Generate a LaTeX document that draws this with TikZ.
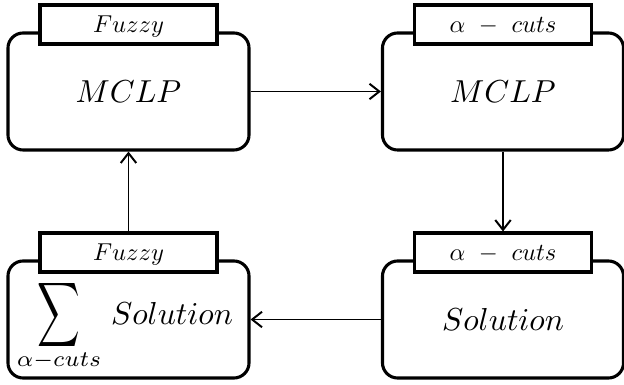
\documentclass[tikz,border=0pt]{standalone}
\usepackage{graphicx}
\usetikzlibrary{arrows.meta}
\newcommand{\boxtxt}[1]{\scalebox{2.26}{$#1$}}
\newcommand{\tagtxt}[1]{\scalebox{1.74}{$#1$}}
\begin{document}
\begin{tikzpicture}[x=0.025cm,y=-0.025cm,
    mainbox/.style={draw,line width=2.2pt,rounded corners=0.38cm,fill=white,
      minimum width=6.025cm,minimum height=2.925cm,inner sep=0pt},
    tagbox/.style={draw,line width=2.2pt,fill=white,text depth=0pt,
      minimum width=4.425cm,minimum height=0.975cm,inner sep=0pt},
    arr/.style={line width=1.4pt,-{Straight Barb[length=7pt,width=11pt]}}]
                    \useasboundingbox (0,0) rectangle (624,385);
                    % upper row
                    \node[mainbox] (mclpfuzzy) at (128.5,91.5) {\boxtxt{MCLP}};
                    \node[tagbox]  (tagmclpfuzzy) at (128.5,24.5) {\tagtxt{Fuzzy}};
                    \node[mainbox] (mclpcut) at (503,91.5) {\boxtxt{MCLP}};
                    \node[tagbox]  (tagmclpcut) at (503,24.5) {\tagtxt{\alpha\ -\ cuts}};
                    % lower row
                    \node[mainbox] (solcut) at (503,319.5) {\boxtxt{Solution}};
                    \node[tagbox]  (tagsolcut) at (503,252.5) {\tagtxt{\alpha\ -\ cuts}};
                    \node[mainbox] (solfuzzy) at (128.5,319.5) {};
                    \node[tagbox]  (tagsolfuzzy) at (128.5,252.5) {\tagtxt{Fuzzy}};
                    \node[inner sep=0pt] (sumsign) at (58.5,315.5) {\scalebox{2.1}[3.2]{$\displaystyle\sum$}};
                    \node[inner sep=0pt,anchor=base] (sumsub) at (59,367) {\boxtxt{\scriptstyle\alpha-cuts}};
                    \node[inner sep=0pt,anchor=base] (sumsol) at (172,325) {\boxtxt{Solution}};
                    % arrows
                    \draw[arr] (mclpfuzzy.east) -- (mclpcut.west);
                    \draw[arr] (mclpcut.south) -- (tagsolcut.north);
                    \draw[arr] (solcut.west) -- (solfuzzy.east);
                    \draw[arr] (tagsolfuzzy.north) -- (mclpfuzzy.south);
                \end{tikzpicture}
\end{document}
